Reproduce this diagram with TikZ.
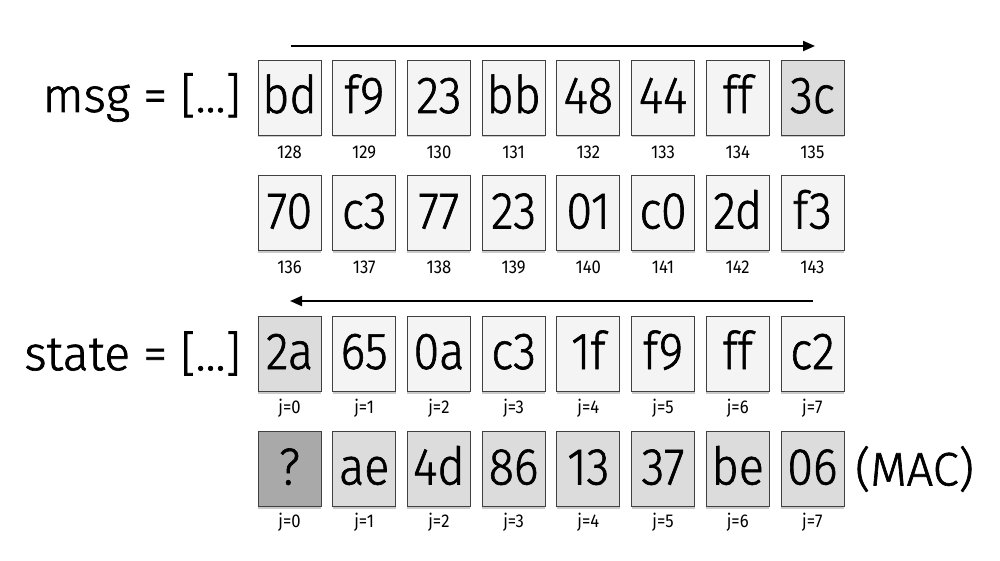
\documentclass[tikz,border=0pt]{standalone}
\usepackage{fontspec}
\setmainfont{Fira Sans}
\newfontfamily\condfont[FakeStretch=0.9, UprightFont=* Light, FakeBold=1.2]{Fira Sans}
\newfontfamily\lblfont[UprightFont=* Light, FakeBold=1.4]{Fira Sans}
\newfontfamily\idxfont[FakeStretch=0.9]{Fira Sans}
\usetikzlibrary{shadows,arrows.meta}
\definecolor{lightbox}{HTML}{F4F4F4}
\definecolor{midbox}{HTML}{DCDCDC}
\definecolor{darkbox}{HTML}{A9A9A9}
\tikzset{
  cell/.style={draw=black!75, line width=0.7pt, minimum width=63pt, minimum height=75pt, inner sep=0pt,
    text height=31pt, text depth=0pt,
    font=\condfont\fontsize{52}{52}\selectfont,
    drop shadow={shadow xshift=0pt, shadow yshift=-2.5pt, opacity=0.35, fill=black!60}},
  lcell/.style={cell, fill=lightbox},
  mcell/.style={cell, fill=midbox},
  dcell/.style={cell, fill=darkbox},
  idx/.style={font=\idxfont\fontsize{18.5}{18.5}\selectfont, inner sep=0pt, text height=12.5pt, text depth=0pt},
  lbl/.style={font=\lblfont\fontsize{48}{48}\selectfont, inner sep=0pt},
  flow/.style={line width=2pt, -{Triangle[length=12pt,width=10pt]}}
}
\begin{document}
\begin{tikzpicture}[x=1pt,y=-1pt]
\useasboundingbox (0,0) rectangle (1000,561);
% row 1: msg
\foreach \v [count=\i from 0] in {bd,f9,23,bb,48,44,ff} {
  \node[lcell] (a\i) at (289.5+74.7*\i,97.5) {\v};
}
\node[mcell] (a7) at (289.5+74.7*7,97.5) {3c};
\foreach \n [count=\i from 0] in {128,129,130,131,132,133,134,135} {
  \node[idx] (ai\i) at (289.5+74.7*\i,152) {\n};
}
% row 2
\foreach \v [count=\i from 0] in {70,c3,77,23,01,c0,2d,f3} {
  \node[lcell] (b\i) at (289.5+74.7*\i,213) {\v};
}
\foreach \n [count=\i from 0] in {136,137,138,139,140,141,142,143} {
  \node[idx] (bi\i) at (289.5+74.7*\i,267.5) {\n};
}
% row 3: state
\node[mcell] (c0) at (289.5,353.5) {2a};
\foreach \v [count=\i from 1] in {65,0a,c3,1f,f9,ff,c2} {
  \node[lcell] (c\i) at (289.5+74.7*\i,353.5) {\v};
}
\foreach \i in {0,...,7} {
  \node[idx] (ci\i) at (289.5+74.7*\i,407.5) {j=\i};
}
% row 4: MAC
\node[dcell] (d0) at (289.5,469) {?};
\foreach \v [count=\i from 1] in {ae,4d,86,13,37,be,06} {
  \node[mcell] (d\i) at (289.5+74.7*\i,469) {\v};
}
\foreach \i in {0,...,7} {
  \node[idx] (di\i) at (289.5+74.7*\i,521.5) {j=\i};
}
% labels
\node[lbl, anchor=east] (msg) at (241,97.5) {msg = [...]};
\node[lbl, anchor=east] (state) at (241,353.5) {state = [...]};
\node[lbl, anchor=west, font=\lblfont\fontsize{47}{47}\selectfont] (mac) at (855,469) {(MAC)};
% arrows
\coordinate (t1) at (291,46);
\coordinate (t2) at (815,46);
\coordinate (s1) at (813,301);
\coordinate (s2) at (290,301);
\draw[flow] (t1) -- (t2);
\draw[flow] (s1) -- (s2);
\end{tikzpicture}
\end{document}
